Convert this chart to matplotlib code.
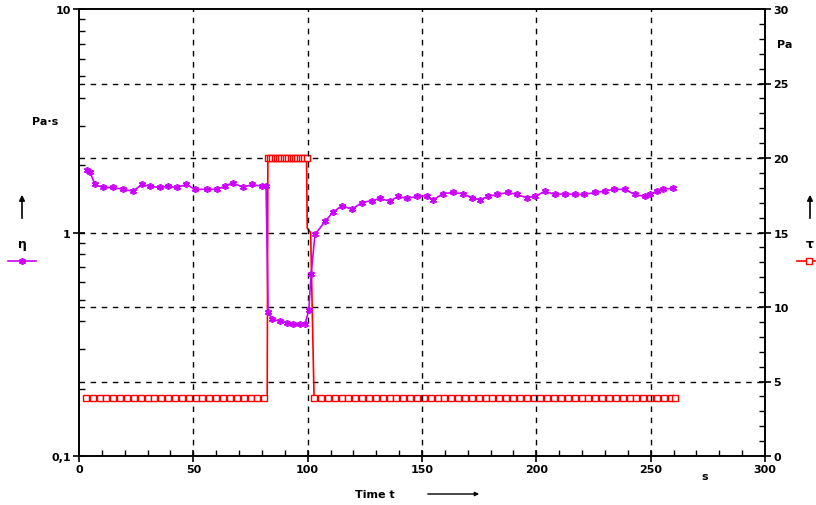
import numpy as np
import matplotlib.pyplot as plt
from matplotlib.ticker import FixedLocator, FixedFormatter, NullFormatter

# viscosity eta (Pa*s), left log axis
eta_t = [3.5, 4.8, 7, 10.5, 14.9, 19.2, 23.6, 27.5, 31, 35.4, 38.9, 42.8, 47, 50.7, 56, 60.3,
         63.8, 67.3, 71.7, 75.6, 80, 81.8,
         82.7, 84.4, 88, 91, 93.6, 96.6, 98.8,
         100.5, 101.5, 103.2, 107.6, 111, 115, 119.3, 123.7, 128, 131.6, 136, 139.5, 143.4,
         147.7, 152, 155, 159, 163.5, 168, 171.8, 175.3, 178.8, 183, 187.6, 191.5, 195.8,
         199.4, 203.8, 208, 212.5, 216.9, 221, 225.6, 230, 234, 238.7, 243, 247.5, 249.7,
         252.6, 255.4, 259.8]
eta_v = [1.91, 1.86, 1.64, 1.59, 1.59, 1.56, 1.53, 1.64, 1.61, 1.59, 1.61, 1.59, 1.64, 1.56, 1.56, 1.56,
         1.61, 1.67, 1.59, 1.64, 1.61, 1.62,
         0.44, 0.41, 0.40, 0.395, 0.39, 0.388, 0.388,
         0.45, 0.65, 0.98, 1.12, 1.23, 1.32, 1.27, 1.36, 1.39, 1.42, 1.38, 1.45, 1.42,
         1.45, 1.46, 1.40, 1.49, 1.51, 1.49, 1.43, 1.40, 1.45, 1.48, 1.51, 1.48, 1.43,
         1.45, 1.53, 1.48, 1.49, 1.48, 1.48, 1.51, 1.53, 1.56, 1.56, 1.48, 1.45, 1.48,
         1.53, 1.56, 1.58]

# shear stress tau (Pa), right axis
tau_t = [3, 6, 9, 12, 15, 18, 21, 24, 27, 30, 33, 36, 39, 42, 45, 48, 51, 54, 57, 60, 63, 66, 69,
         72, 75, 78, 81, 82.3,
         82.6, 83.5, 84.5, 85.5, 86.5, 87.5, 88.5, 89.5, 90.5, 91.5, 92.5, 93.5, 94.5, 95.5,
         96.5, 97.5, 98.5, 99.5, 99.8, 101.3,
         102.8, 105.8, 108.8, 111.8, 114.8, 117.8, 120.8, 123.8, 126.8, 129.8, 132.8, 135.8,
         138.8, 141.8, 144.8, 147.8, 150.8, 153.8, 156.8, 159.8, 162.8, 165.8, 168.8, 171.8,
         174.8, 177.8, 180.8, 183.8, 186.8, 189.8, 192.8, 195.8, 198.8, 201.8, 204.8, 207.8,
         210.8, 213.8, 216.8, 219.8, 222.8, 225.8, 228.8, 231.8, 234.8, 237.8, 240.8, 243.8,
         246.8, 249.8, 252.8, 255.8, 258.8, 260.5]
tau_v = [3.9] * 28 + [20] * 18 + [15.3, 15.0] + [3.9] * 54
tau_mark = [True] * 27 + [False] + [True] * 18 + [False, False] + [True] * 54

fig = plt.figure(figsize=(8.16, 5.06), dpi=100)
ax = fig.add_axes([79 / 816, 49 / 506, 686 / 816, 447 / 506])
ax2 = ax.twinx()

mag = '#cc00ff'
red = '#ff0000'
fnt = dict(fontsize=8, fontweight='bold')

# grid tied to the right axis
for v in [5, 10, 15, 20, 25]:
    ax2.axhline(v, color='black', lw=1, ls=(0, (4, 4)), zorder=0)
for v in [50, 100, 150, 200, 250]:
    ax.axvline(v, color='black', lw=1, ls=(0, (4, 4)), zorder=0)

ax.semilogy(eta_t, eta_v, color=mag, lw=1.2, marker=(6, 2, 0), ms=5, mew=1.2, zorder=3)
ax.set_zorder(ax2.get_zorder() + 1)
ax.patch.set_visible(False)

ax2.plot(tau_t, tau_v, color=red, lw=1.2, zorder=2)
tm = [t for t, m in zip(tau_t, tau_mark) if m]
vm = [v for v, m in zip(tau_v, tau_mark) if m]
ax2.plot(tm, vm, ls='none', marker='s', ms=5, mfc='white', mec=red, mew=1, zorder=2)

ax.set_xlim(0, 300)
ax.set_ylim(0.1, 10)
ax2.set_ylim(0, 30)

ax.yaxis.set_major_locator(FixedLocator([0.1, 1, 10]))
ax.yaxis.set_major_formatter(FixedFormatter(['0,1', '1', '10']))
ax.yaxis.set_minor_locator(FixedLocator([k * d for d in [0.1, 1] for k in range(2, 10)]))
ax.yaxis.set_minor_formatter(NullFormatter())
ax.set_xticks([0, 50, 100, 150, 200, 250, 300])
ax.set_xticks(np.arange(0, 301, 10), minor=True)
ax2.set_yticks([0, 5, 10, 15, 20, 25, 30])
ax2.set_yticks(np.arange(0, 31, 1), minor=True)

for a in (ax, ax2):
    a.tick_params(which='major', direction='inout', length=8, width=1.2, labelsize=8, pad=2)
    a.tick_params(which='minor', direction='in', length=4, width=1)
    for lab in a.get_xticklabels() + a.get_yticklabels():
        lab.set_fontweight('bold')
    for s in a.spines.values():
        s.set_linewidth(1.2)

# axis annotations
fig.text(45 / 816, 1 - 122 / 506, 'Pa·s', ha='center', va='center', **fnt)
fig.text(22 / 816, 1 - 245 / 506, 'η', ha='center', va='center', fontsize=9, fontweight='bold')
fig.text(785 / 816, 1 - 45 / 506, 'Pa', ha='center', va='center', **fnt)
fig.text(810 / 816, 1 - 245 / 506, 'τ', ha='center', va='center', fontsize=9, fontweight='bold')
fig.text(705 / 816, 1 - 477 / 506, 's', ha='center', va='center', **fnt)
fig.text(375 / 816, 1 - 495 / 506, 'Time t', ha='center', va='center', **fnt)

arw = dict(arrowstyle='-|>', color='black', lw=1.2, mutation_scale=8)
fig.add_artist(plt.matplotlib.patches.FancyArrowPatch((22 / 816, 1 - 222 / 506), (22 / 816, 1 - 193 / 506),
                                                      transform=fig.transFigure, **arw))
fig.add_artist(plt.matplotlib.patches.FancyArrowPatch((810 / 816, 1 - 222 / 506), (810 / 816, 1 - 193 / 506),
                                                      transform=fig.transFigure, **arw))
fig.add_artist(plt.matplotlib.patches.FancyArrowPatch((425 / 816, 1 - 495 / 506), (482 / 816, 1 - 495 / 506),
                                                      transform=fig.transFigure, arrowstyle='-|>',
                                                      color='black', lw=1, mutation_scale=6))

# legend keys
fig.add_artist(plt.Line2D([8 / 816, 36 / 816], [1 - 262 / 506] * 2, color=mag, lw=1.2, transform=fig.transFigure))
fig.add_artist(plt.Line2D([22 / 816], [1 - 262 / 506], color=mag, marker=(6, 2, 0), ms=5, mew=1.2,
                          transform=fig.transFigure))
fig.add_artist(plt.Line2D([797 / 816, 815 / 816], [1 - 262 / 506] * 2, color=red, lw=1.2, transform=fig.transFigure))
fig.add_artist(plt.Line2D([809 / 816], [1 - 262 / 506], color=red, marker='s', ms=5, mfc='white', mec=red,
                          transform=fig.transFigure))

fig.savefig('out.png', dpi=100)
